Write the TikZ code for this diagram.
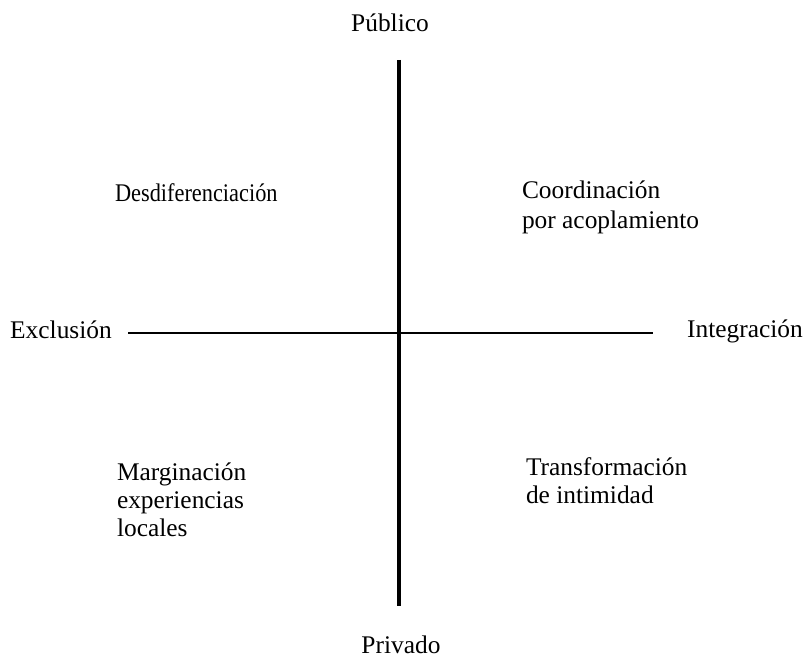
\documentclass[tikz,border=0pt]{standalone}
\usepackage{fontspec}
\setmainfont{Liberation Serif}
\usetikzlibrary{calc}

\tikzset{
	lbl/.style={inner sep=0pt, outer sep=0pt, anchor=base, font=\fontsize{12.7}{14}\selectfont},
	quad/.style={lbl, align=left, anchor=north west},
}

\begin{document}
\begin{tikzpicture}[x=0.5pt,y=-0.5pt]
	\useasboundingbox (0,0) rectangle (809,658);
	
	\node[lbl] at (390,32) (pub) {Público};
	\node[lbl] at (401,653) (priv) {Privado};
	\node[lbl] at (61,338) (excl) {Exclusión};
	\node[lbl] at (745,337) (integ) {Integración};
	
	\coordinate (top) at (399,60);
	\coordinate (bot) at (399,606);
	\coordinate (lft) at (128,333);
	\coordinate (rgt) at (653,333);
	
	\node[quad] at (115,184) (desd) {\scalebox{0.88}[1]{Desdiferenciación}};
	\node[quad, font=\fontsize{12.7}{15}\selectfont] at (522,181) (coord) {Coordinación\\por acoplamiento};
	\node[quad] at (117,463) (marg) {Marginación\\experiencias\\locales};
	\node[quad] at (526,458) (trans) {Transformación\\de intimidad};
	
	\draw[black,line width=2pt] (top)--(bot);
	\draw[black,line width=1pt] (lft)--(rgt);
\end{tikzpicture}
\end{document}
